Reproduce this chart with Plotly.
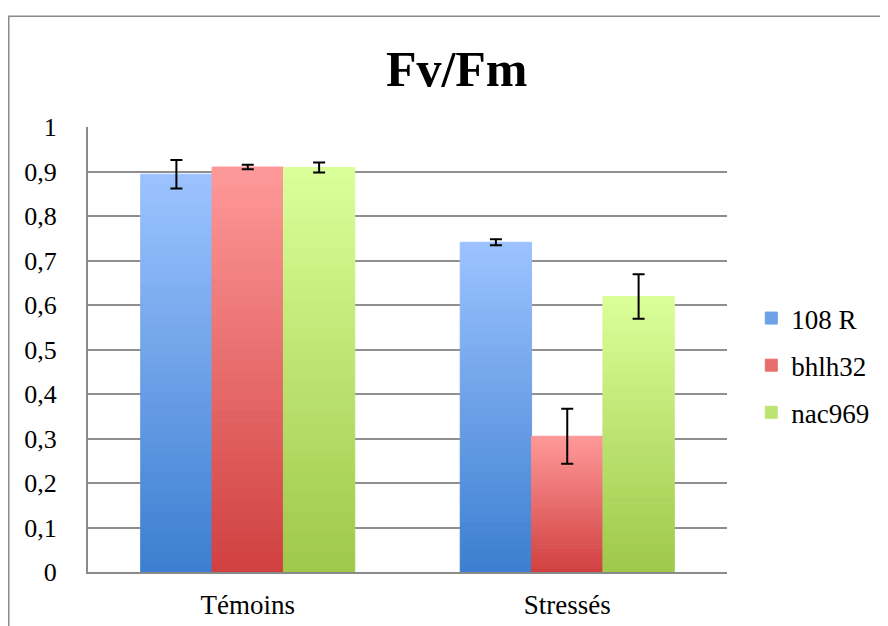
import plotly.graph_objects as go

categories = ["Témoins", "Stressés"]
series_names = ["108 R", "bhlh32", "nac969"]
values_108R = [0.894, 0.741]
values_bhlh32 = [0.910, 0.305]
values_nac969 = [0.909, 0.619]
err_108R = [0.032, 0.007]
err_bhlh32 = [0.005, 0.062]
err_nac969 = [0.011, 0.050]
y_ticks = [0, 0.1, 0.2, 0.3, 0.4, 0.5, 0.6, 0.7, 0.8, 0.9, 1]

series_values = [values_108R, values_bhlh32, values_nac969]
series_errs = [err_108R, err_bhlh32, err_nac969]
# (dark bottom colour, light top colour)
series_colors = [
    ((60, 126, 208), (156, 195, 255)),
    ((208, 64, 64), (255, 153, 153)),
    ((158, 200, 74), (219, 255, 153)),
]

N = 40
FONT = "Liberation Serif"
W, H = 880, 618  # page body has an 8px margin

fig = go.Figure()
for name, vals, errs, (dark, light) in zip(series_names, series_values, series_errs, series_colors):
    for k in range(N):
        t = (k + 0.5) / N
        c = "rgb(%d,%d,%d)" % tuple(round(d + (l - d) * t) for d, l in zip(dark, light))
        fig.add_trace(go.Bar(
            x=categories,
            y=[v / N for v in vals],
            base=[v * k / N for v in vals],
            offsetgroup=name,
            legendgroup=name,
            name=name,
            showlegend=(k == N // 2),
            marker=dict(color=c, line=dict(width=1, color=c)),
            hoverinfo="skip",
        ))
    fig.add_trace(go.Bar(
        x=categories,
        y=vals,
        offsetgroup=name,
        legendgroup=name,
        name=name,
        showlegend=False,
        marker=dict(color="rgba(0,0,0,0)", line=dict(width=0)),
        error_y=dict(type="data", array=errs, visible=True, color="black", thickness=2, width=6),
    ))

fig.update_layout(
    width=W, height=H,
    margin=dict(l=80, r=161, t=119, b=54, autoexpand=False),
    paper_bgcolor="white", plot_bgcolor="white",
    barmode="group", bargap=0.33, bargroupgap=0,
    separators=", ",
    font=dict(family=FONT, size=26, color="black"),
    title=dict(text="<b>Fv/Fm</b>", font=dict(family=FONT, size=50, color="black"),
               x=0.577, xref="paper", xanchor="center", y=1 - 60 / H, yref="container", yanchor="middle"),
    legend=dict(x=1.038, xanchor="left", y=0.464, yanchor="middle", yref="paper",
                font=dict(family=FONT, size=27, color="black"), traceorder="grouped", tracegroupgap=9,
                bgcolor="rgba(0,0,0,0)"),
    showlegend=True,
    shapes=[dict(type="rect", xref="paper", yref="paper", x0=-0.124, x1=1.3, y0=-0.2, y1=1.249,
                 line=dict(color="#8a8a8a", width=1.5), fillcolor="rgba(0,0,0,0)", layer="below")],
)
fig.update_xaxes(showline=True, linecolor="#8a8a8a", linewidth=2, ticks="", ticklabelstandoff=8,
                 showgrid=False, automargin=False, tickfont=dict(family=FONT, size=27, color="black"))
fig.update_yaxes(range=[0, 1], tickvals=y_ticks, showgrid=True, gridcolor="#8f8f8f", gridwidth=2,
                 showline=True, linecolor="#8a8a8a", linewidth=2, ticks="", ticklabelstandoff=24,
                 zeroline=False, automargin=False, tickfont=dict(family=FONT, size=26, color="black"))

fig.write_html("out.html")
